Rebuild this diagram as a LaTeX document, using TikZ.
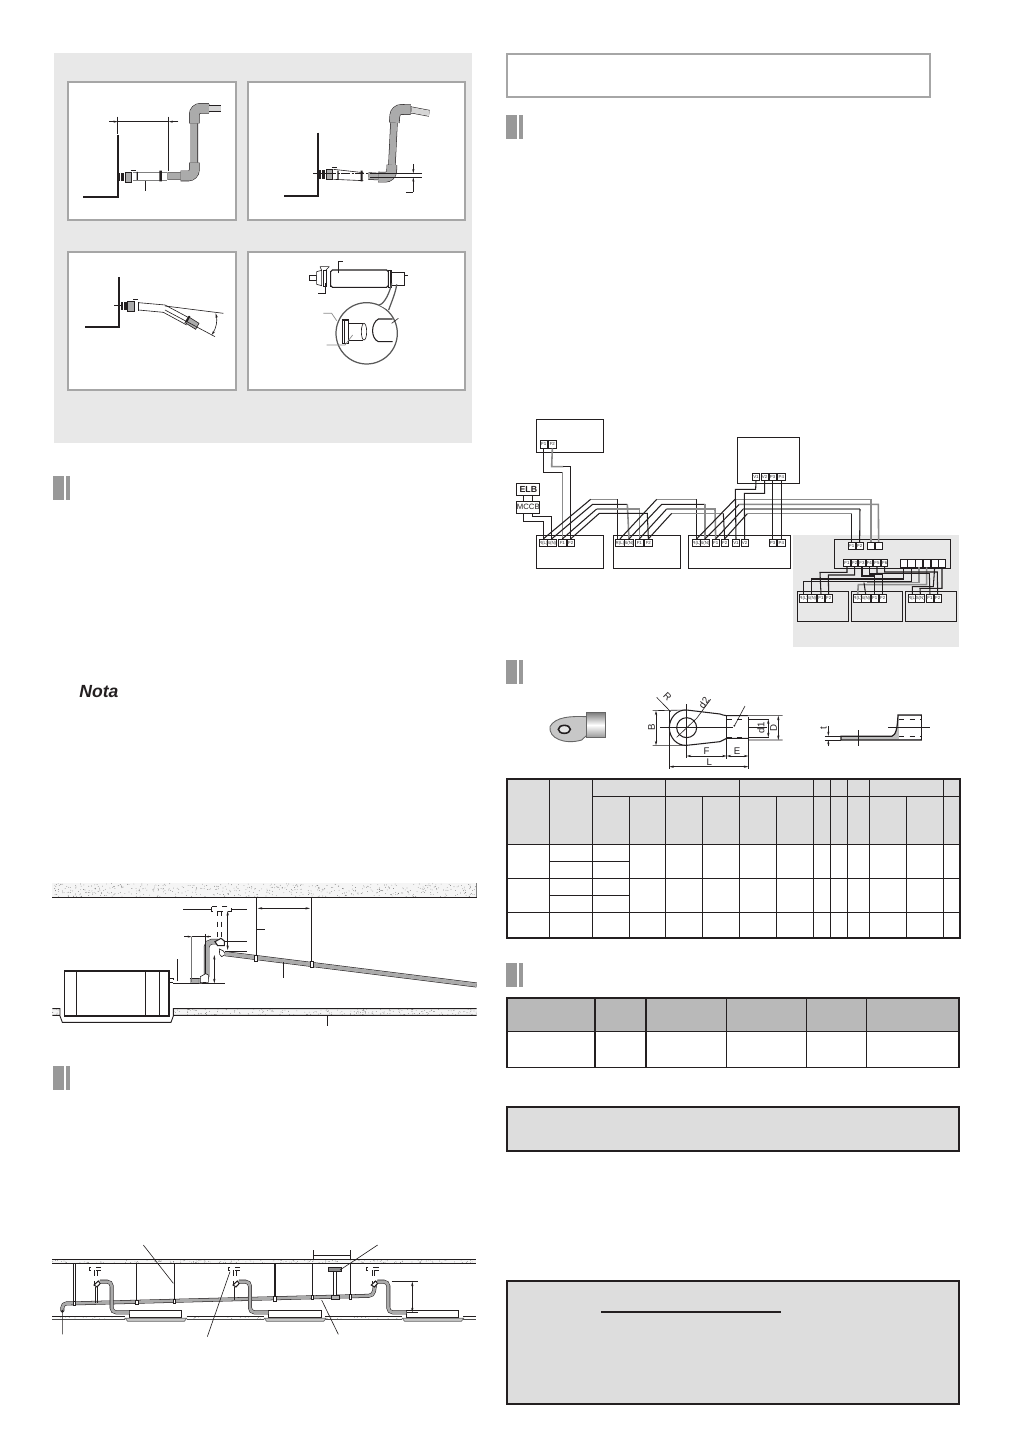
\documentclass[tikz,border=0pt]{standalone}
\usepackage{fontspec}
\setmainfont{Liberation Sans}
\usetikzlibrary{arrows.meta}
\definecolor{panelg}{HTML}{E8E8E8}
\definecolor{bordg}{HTML}{A6A6A6}
\definecolor{headg}{HTML}{DDDDDD}
\definecolor{headd}{HTML}{B9B9B9}
\definecolor{barg}{HTML}{999999}
\definecolor{pipeg}{HTML}{ABABAB}
\definecolor{inkc}{HTML}{231F20}
\tikzset{
 zoomed/.style 2 args={shift={(#1,#2)},x=0.0066667cm,y=-0.0066667cm},
 thin line/.style={draw=inkc,line width=.35pt},
 med line/.style={draw=inkc,line width=.6pt},
 heavy line/.style={draw=inkc,line width=1.1pt},
 pipe/.style={draw=inkc,line width=.3pt,double=pipeg,double distance=3.6pt},
 elbow/.style={draw=inkc,line width=.3pt,double=pipeg,double distance=5.4pt},
 tube/.style={draw=inkc,line width=.3pt,double=white,double distance=3.4pt},
 dimline/.style={draw=inkc,line width=.3pt,{Stealth[length=2.6pt,width=1.3pt]}-{Stealth[length=2.6pt,width=1.3pt]}},
 bw/.style={draw=inkc,line width=.6pt},
 gw/.style={draw=black!45,line width=.9pt},
 term/.style={draw=inkc,fill=white,line width=.5pt,minimum width=4.2pt,minimum height=4.2pt,inner sep=0pt,text=black!80,font=\fontsize{2.5}{3}\selectfont},
 ubox/.style={draw=inkc,fill=none,line width=.55pt},
 clamp/.style={draw=inkc,fill=white,line width=.35pt},
 lbl/.style={inner sep=0pt,text=inkc,font=\fontsize{5.5}{6}\selectfont},
 gridline/.style={draw=inkc,line width=.6pt},
}
\newcommand\speck[5]{\foreach \i in {1,...,#5}{\pgfmathsetmacro\sa{#1+rnd*(#3-#1)}\pgfmathsetmacro\sb{#2+rnd*(#4-#2)}\fill[black!65] (\sa,\sb) circle[radius=1];}}
\newcommand\sectbar[2]{\fill[barg] (#1,#2) rectangle ++(11,24);\fill[barg] (#1+13,#2) rectangle ++(4,24);}
\newcommand\fitdraw[2]{%
 \begin{scope}[shift={(#1,#2)}]
 \fill[inkc] (0,-13) rectangle (18,13);
 \fill[white] (6,-13) rectangle (8,13);
 \draw[thin line,fill=pipeg] (20,-15) rectangle (40,15);
 \draw[thin line] (38,-20) -- (52,-20);
 \end{scope}}
\begin{document}
\begin{tikzpicture}[x=0.02cm,y=-0.02cm]
\useasboundingbox (0,0) rectangle (1013,1439);
\fill[white] (0,0) rectangle (1013,1439);
\pgfmathsetseed{42}
% ===== top-left grey panel =====
\fill[panelg] (54,53) rectangle (472,443);
\foreach \a/\b/\c/\d in {68/82/236/220,248/82/465/220,68/252/236/390,248/252/465/390}
  \draw[draw=bordg,fill=white,line width=1.1pt] (\a,\b) rectangle (\c,\d);
\begin{scope}[zoomed={50}{50}]
 % panel A
 \draw[heavy line] (203,255) -- (203,440) -- (100,440);
 \fitdraw{205}{381}
 \draw[draw=black!50,line width=.4pt] (248,368) -- (352,368) (248,392) -- (352,392);
 \fill[inkc] (260,366) rectangle (264,390) (328,362) rectangle (336,394);
 \draw[pipe,rounded corners=4pt] (352,378) -- (433,378) -- (433,175) -- (480,175);
 \draw[elbow,rounded corners=3.5pt] (392,378) -- (433,378) -- (433,338);
 \draw[elbow,rounded corners=3.5pt] (433,220) -- (433,175) -- (477,175);
 \draw[draw=inkc,line width=.3pt,double=pipeg!50,double distance=3.2pt] (478,175) -- (513,175);
 \draw[thin line] (203,200) -- (203,252) (356,200) -- (356,362) (285,392) -- (285,422);
 \draw[thin line] (203,215) -- (356,215);
 \draw[thin line,-{Stealth[length=2.4pt,width=1.2pt]}] (178,215) -- (203,215);
 \draw[thin line,-{Stealth[length=2.4pt,width=1.2pt]}] (385,215) -- (356,215);
 % panel B
 \draw[heavy line] (803,248) -- (803,437) -- (703,437);
 \fitdraw{808}{373}
 \draw[thin line] (850,358) -- (940,368) (850,388) -- (940,392);
 \draw[thin line,dash pattern=on 5pt off 1pt on 1pt off 1pt] (790,370) -- (960,370);
 \fill[inkc] (862,362) rectangle (866,388) (932,362) rectangle (938,394);
 \draw[pipe,rounded corners=4pt] (955,378) -- (1024,382) -- (1034,178) -- (1085,180);
 \draw[elbow,rounded corners=3.5pt] (985,381) -- (1024,382) -- (1026,345);
 \draw[elbow,rounded corners=3.5pt] (1033,218) -- (1036,178) -- (1082,179);
 \draw[draw=inkc,line width=.3pt,double=pipeg!50,double distance=3.2pt] (1085,180) -- (1138,190);
 \draw[thin line] (960,370) -- (1116,370) (960,382) -- (1116,382) (1068,427) -- (1090,427);
 \draw[thin line,-{Stealth[length=2.4pt,width=1.2pt]}] (1090,342) -- (1090,370);
 \draw[thin line,-{Stealth[length=2.4pt,width=1.2pt]}] (1090,425) -- (1090,382);
 % panel C
 \draw[heavy line] (206,682) -- (206,830) -- (105,830);
 \draw[thin line] (193,765) -- (212,765);
 \fitdraw{212}{768}
 \draw[thin line] (265,758) -- (345,765) -- (420,805) (265,780) -- (340,787) -- (410,825);
 \fill[inkc] (264,756) rectangle (268,782);
 \draw[thin line,fill=pipeg] (405,818) -- (415,800) -- (447,820) -- (437,838) -- cycle;
 \fill[inkc] (407,815) -- (417,797) -- (421,800) -- (411,818) -- cycle;
 \draw[thin line] (345,768) -- (520,790) (345,780) -- (495,860);
 \draw[thin line,{Stealth[length=2.6pt,width=1.3pt]}-{Stealth[length=2.6pt,width=1.3pt]}] (497,790) .. controls (503,812) and (498,835) .. (485,855);
\end{scope}
% panel D
\begin{scope}[zoomed={290}{255}]
 \draw[thin line] (57,62) -- (80,62) -- (80,75) -- (57,75) -- cycle;
 \draw[thin line,fill=white] (80,50) -- (95,46) -- (95,92) -- (80,88) -- cycle;
 \draw[thin line] (90,35) -- (118,35) (90,35) -- (95,46) (108,45) -- (118,35);
 \draw[thin line] (100,45) rectangle (108,95);
 \fill[inkc] (119,48) rectangle (124,95);
 \draw[med line,rounded corners=1pt] (122,45) rectangle (295,97);
 \draw[thin line] (296,45) rectangle (305,97) (300,45) -- (300,97);
 \draw[thin line] (305,52) -- (342,52) -- (342,90) -- (305,90);
 \draw[thin line] (342,62) -- (355,62) (145,55) -- (145,20) -- (158,20) (105,85) -- (105,115) -- (85,115);
 \draw[draw=black!65,line width=.7pt] (230,235) circle[radius=92];
 \fill[white] (268,150) -- (296,165) -- (305,140) -- cycle;
 \draw[draw=black!65,line width=.7pt] (268,150) .. controls (285,145) and (300,110) .. (305,85) (296,165) .. controls (305,140) and (318,110) .. (320,88);
 \draw[med line] (158,195) rectangle (175,265) (164,195) -- (164,265);
 \draw[thin line] (175,205) -- (220,205) (175,255) -- (220,255);
 \draw[thin line] (222,230) ellipse[x radius=8,y radius=25];
 \draw[med line] (308,192) -- (265,192) .. controls (242,205) and (242,250) .. (265,260) -- (308,260);
 \draw[draw=black!45,line width=.4pt] (100,175) -- (125,175) -- (140,197) (110,270) -- (165,270) -- (188,240);
 \draw[thin line] (305,205) -- (325,190);
\end{scope}
% ===== section bars =====
\sectbar{53}{476}
\sectbar{53}{1066}
\sectbar{506}{115}
\sectbar{506}{660}
\sectbar{506}{963}
\draw[draw=bordg,line width=1.1pt] (507,54) rectangle (930,97);
\node[inner sep=0pt,anchor=west,text=inkc] (nota) at (79,692) {\fontsize{10}{12}\selectfont\bfseries\itshape Nota};
% ===== wiring =====
\begin{scope}[zoomed={500}{410}]
 \fill[panelg] (880,375) rectangle (1377,710);
 \foreach \a/\b/\c/\d in {109/28/310/127, 712/82/898/220, 109/376/310/475, 340/376/541/475, 565/376/872/475, 1003/388/1351/476, 892/545/1045/634, 1054/545/1208/634, 1216/545/1370/634}
   \draw[ubox] (\a,\b) rectangle (\c,\d);
 \node[term,minimum width=13pt,minimum height=6.6pt,font=\fontsize{5}{6}\selectfont\bfseries,text=inkc] (elb) at (85,238) {ELB};
 \node[term,minimum width=13pt,minimum height=6.6pt,font=\fontsize{4.4}{6}\selectfont,text=inkc] (mccb) at (85,292) {MCCB};
 \node[term] (ta) at (131,103) {F1};
 \node[term] (tb) at (157,103) {F2};
 \node[term] (v1) at (768,200) {V1};
 \node[term] (v2) at (794,200) {V2};
 \node[term] (v3) at (818,200) {P3};
 \node[term] (v4) at (844,200) {P4};
 \foreach \n/\x/\t in {a1/130/R(L),a2/155/S(N),a3/187/F1,a4/212/F2,b1/360/R(L),b2/387/S(N),b3/418/F1,b4/445/F2,c1/590/R(L),c2/615/S(N),c3/647/F1,c4/674/F2,c5/708/V1,c6/734/V2,c7/818/P3,c8/844/P4}
   \node[term] (\n) at (\x,399) {\t};
 \node[term] (e1) at (1055,408) {F1};
 \node[term] (e2) at (1079,408) {F2};
 \node[term] (e3) at (1113,408) {};
 \node[term] (e4) at (1136,408) {};
 \foreach \n/\x/\t in {g1/1041/F1,g2/1064/F2,g3/1086/F3,g4/1108/F4,g5/1131/F5,g6/1154/F6}
   \node[term,minimum width=3.6pt,minimum height=3.9pt] (\n) at (\x,460) {\t};
 \foreach \n/\x in {h1/1211,h2/1234,h3/1257,h4/1280,h5/1304,h6/1326}
   \node[term] (\n) at (\x,460) {};
 \foreach \n/\x/\t in {p1/911/R(L),p2/935/S(N),p3/963/F1,p4/986/F2,q1/1073/R(L),q2/1097/S(N),q3/1124/F1,q4/1148/F2,r1/1237/R(L),r2/1261/S(N),r3/1290/F1,r4/1313/F2}
   \node[term] (\n) at (\x,565) {\t};
 % links
 \draw[bw] (elb.south -| 70,0) -- (mccb.north -| 70,0) (elb.south -| 97,0) -- (mccb.north -| 97,0);
 \draw[bw] (mccb.south -| 70,0) -- (70,335) -| (a1.north);
 \draw[bw] (mccb.south -| 97,0) -- (97,319) -- (155,319) -- (a2.north);
 \draw[bw] (ta.south) -- (131,187) -- (187,187);
 \draw[gw] (187,187) -- (a3.north);
 \draw[gw] (tb.south) -- (155,170) -- (190,170);
 \draw[bw] (190,170) -- (212,170) -- (a4.north);
 \draw[bw] (a1.north) -- (272,268);\draw[gw] (272,268) -- (352,268);\draw[bw] (352,268) -- (352,389);
 \draw[bw] (a2.north) -- (278,283) -- (382,283);\draw[gw] (382,283) -- (b2.north);
 \draw[bw] (a3.north) -- (290,297);\draw[gw] (290,297) -- (418,297) -- (b3.north);
 \draw[bw] (a4.north) -- (298,310) -- (442,310) -- (b4.north);
 \draw[bw] (b1.north) -- (470,268);\draw[gw] (470,268) -- (590,268);\draw[bw] (590,268) -- (c1.north);
 \draw[bw] (b2.north) -- (485,283) -- (615,283);\draw[gw] (615,283) -- (c2.north);
 \draw[bw] (b3.north) -- (500,297);\draw[gw] (500,297) -- (645,297) -- (c3.north);
 \draw[bw] (b4.north) -- (515,310);\draw[gw] (515,310) -- (670,310);\draw[bw] (670,310) -- (c4.north);
 \draw[bw] (c1.north) -- (705,268);\draw[gw] (705,268) -- (1113,268) -- (e3.north);
 \draw[bw] (c2.north) -- (718,283);\draw[gw] (718,283) -- (1135,283) -- (e4.north);
 \draw[bw] (c3.north) -- (730,297);\draw[gw] (730,297) -- (1080,297);\draw[bw] (1080,297) -- (e2.north);
 \draw[bw] (c4.north) -- (742,311);\draw[gw] (742,311) -- (1055,311);\draw[bw] (1055,311) -- (e1.north);
 \draw[bw] (v1.south) -- (767,238) -- (706,238) -- (c5.north);
 \draw[bw] (v2.south) -- (794,250) -- (733,250) -- (c6.north);
 \draw[bw] (v3.south) -- (c7.north);
 \draw[bw] (v4.south) -- (c8.north);
 \draw[bw] (g1.south) -- (1041,487) -- (960,487) -- (p3.north);
 \draw[bw] (g2.south) -- (1064,495) -- (985,495) -- (p4.north);
 \draw[bw] (h1.south) -- (1211,507) -- (935,507) -- (p2.north);
 \draw[bw] (h2.south) -- (1234,515) -- (911,515) -- (p1.north);
 \draw[gw] (h3.south) -- (1257,518) -- (1100,518);
 \draw[gw] (h4.south) -- (1280,524) -- (1075,524) -- (q1.north);
 \draw[bw] (1092,518) -- (q2.north);
 \draw[bw] (g3.south) -- (1086,498) -- (1124,498) -- (q3.north);
 \draw[bw] (g4.south) -- (1108,492) -- (1148,492) -- (q4.north);
 \draw[bw] (g5.south) -- (1131,490) -- (1288,490) -- (r3.north);
 \draw[bw] (g6.south) -- (1154,486) -- (1312,486) -- (r4.north);
 \draw[bw] (h5.south) -- (1300,530) -- (1237,530) -- (r1.north);
 \draw[bw] (h6.south) -- (1326,535) -- (1260,535) -- (r2.north);
\end{scope}
% ===== lug =====
\begin{scope}[zoomed={500}{660}]
 % 3D
 \fill[black!22] (258,170) .. controls (215,168) and (165,170) .. (150,200) .. controls (145,235) and (195,255) .. (245,240) -- (258,228) -- cycle;
 \draw[black!60,line width=.5pt] (258,170) .. controls (215,168) and (165,170) .. (150,200) .. controls (145,235) and (195,255) .. (245,240) -- (258,228);
 \fill[top color=black!50,bottom color=black!40,middle color=white] (258,158) rectangle (317,232);
 \draw[black!60,line width=.5pt] (258,158) rectangle (317,232);
 \draw[draw=inkc,fill=black!10,line width=.9pt] (193,208) ellipse[x radius=18,y radius=12];
 % plan
 \draw[med line] (560,150) .. controls (530,148) and (508,175) .. (508,203) .. controls (508,232) and (530,258) .. (560,256) -- (660,245) .. controls (668,242) and (672,238) .. (680,235) -- (745,235);
 \draw[med line] (560,150) -- (660,162) .. controls (668,164) and (672,167) .. (680,167) -- (745,167);
 \draw[med line] (560,203) circle[radius=30];
 \draw[draw=inkc,line width=.5pt] (745,178) -- (808,178);
 \draw[draw=inkc,line width=.5pt,dashed] (680,178) -- (745,178);
 \draw[draw=inkc,line width=.5pt] (745,232) -- (808,232);
 \draw[draw=inkc,line width=.5pt,dashed] (680,232) -- (745,232);
 \draw[thin line] (745,167) -- (848,167) (745,240) -- (848,240) (458,152) -- (560,150) (458,256) -- (560,256);
 \draw[thin line] (480,203) -- (700,203) (745,203) -- (800,203);
 \draw[thin line] (560,132) -- (560,295) (680,167) -- (680,298) (745,170) -- (745,328) (508,150) -- (508,328);
 \draw[thin line] (470,112) -- (512,155) (530,232) -- (590,175) -- (632,118) (703,198) -- (735,138);
 \fill[inkc] (703,197) circle[radius=3];
 \draw[dimline] (468,152) -- (468,256);
 \draw[dimline] (508,320) -- (745,320);
 \draw[dimline] (560,288) -- (680,288);
 \draw[dimline] (680,288) -- (745,288);
 \draw[dimline] (835,167) -- (835,240);
 \draw[dimline] (805,178) -- (805,232);
 \node[lbl,rotate=90] (lbB) at (455,203) {B};
 \node[lbl,rotate=-45] (lbR) at (502,110) {R};
 \node[lbl,rotate=55] (lbd2) at (612,128) {d2};
 \node[lbl,rotate=90] (lbd1) at (783,203) {d1};
 \node[lbl,rotate=90] (lbD) at (821,203) {D};
 \node[lbl] (lbF) at (620,275) {F};
 \node[lbl] (lbE) at (711,275) {E};
 \node[lbl] (lbL) at (628,308) {L};
 % side
 \draw[draw=inkc,fill=black!25,line width=.7pt] (1023,229) -- (1175,229) .. controls (1187,225) and (1192,210) .. (1194,165) -- (1264,165) -- (1264,240) -- (1023,240) -- cycle;
 \fill[white] (1197,168) rectangle (1262,237);
 \fill[black!25] (1197,168) -- (1197,190) .. controls (1195,215) and (1190,225) .. (1180,229) -- (1197,229) -- cycle;
 \draw[thin line,dashed] (1197,178) -- (1262,178) (1197,229) -- (1262,229);
 \draw[thin line] (1165,203) -- (1290,203) (1075,210) -- (1075,258) (975,228) -- (1023,228) (975,240) -- (1023,240);
 \draw[thin line,-{Stealth[length=2.4pt,width=1.2pt]}] (985,198) -- (985,228);
 \draw[thin line,-{Stealth[length=2.4pt,width=1.2pt]}] (985,258) -- (985,240);
 \node[lbl,rotate=90] (lbt) at (971,205) {t};
 % table
 \fill[headg] (20,356) rectangle (1381,553);
 \foreach \x in {148,277,496,718,940,991,1042,1108,1330}
   \draw[gridline] (\x,356) -- (\x,835);
 \foreach \x in {388,607,829,1219}
   \draw[gridline] (\x,409) -- (\x,835);
 \draw[gridline] (277,409) -- (1381,409) (20,553) -- (1381,553) (148,604) -- (388,604) (20,655) -- (1381,655) (148,706) -- (388,706) (20,757) -- (1381,757);
 \draw[draw=inkc,line width=.95pt] (20,356) rectangle (1381,835);
\end{scope}
% ===== tables/boxes lower right =====
\begin{scope}[zoomed={500}{960}]
 \fill[headd] (20,113) rectangle (1378,214);
 \foreach \x in {438,679,1099} \draw[gridline] (\x,113) -- (\x,322);
 \foreach \x in {285,920} \draw[draw=inkc,line width=.95pt] (\x,113) -- (\x,322);
 \draw[gridline] (20,214) -- (1378,214);
 \draw[draw=inkc,line width=.95pt] (20,113) rectangle (1378,322);
 \draw[draw=inkc,fill=headg,line width=1.1pt] (20,440) rectangle (1378,573);
 \draw[draw=inkc,fill=headg,line width=1.1pt] (20,964) rectangle (1378,1332);
 \draw[draw=inkc,line width=.6pt] (303,1056) -- (843,1056);
\end{scope}
% ===== section 2 drawing =====
\begin{scope}[zoomed={45}{875}]
 \fill[black!4] (22,25) rectangle (1295,66);
 \speck{22}{26}{1295}{65}{520}
 \draw[draw=inkc,line width=.5pt] (22,66) -- (1295,66);
 \draw[draw=black!50,line width=.3pt] (1295,25) -- (1295,66);
 \fill[black!4] (385,401) rectangle (1295,421);
 \speck{385}{402}{1295}{420}{200}
 \fill[black!4] (22,401) rectangle (45,421);
 \speck{22}{402}{45}{420}{6}
 \draw[draw=inkc,line width=.5pt] (22,401) -- (45,401) -- (45,423) -- (52,442) -- (378,442) -- (385,423) -- (385,401) -- (1295,401) (385,421) -- (1295,421) (22,421) -- (45,421);
 \draw[draw=inkc,line width=.9pt,fill=white] (58,288) rectangle (372,423);
 \draw[med line] (94,288) -- (94,423) (302,288) -- (302,423) (344,288) -- (344,423);
 \draw[med line,fill=white] (372,311) rectangle (385,322);
 \draw[tube,double distance=1.6pt] (385,320) -- (435,320);
 \draw[pipe,double distance=2.4pt] (435,318) -- (470,318);
 \draw[pipe,double distance=2.6pt,rounded corners=3pt] (462,318) -- (485,318) -- (485,200) -- (520,200);
 \draw[draw=inkc,line width=.35pt,fill=white] (466,305) -- (482,296) -- (490,300) -- (490,322) -- (466,323) -- cycle;
 % T dashed
 \draw[thin line,dashed] (500,95) rectangle (558,108);
 \draw[thin line,dashed] (518,108) -- (518,190) (530,108) -- (530,190);
 \draw[med line,fill=white] (510,200) -- (528,190) -- (538,198) -- (538,212) -- (518,212) -- cycle;
 \draw[thin line,fill=white] (523,222) -- (535,228) -- (542,238) -- (530,245) -- (524,238) -- cycle;
 \draw[pipe,double distance=2.2pt] (540,236) -- (1295,330);
 \draw[heavy line,line width=.9pt] (634,66) -- (634,243) (800,66) -- (800,262);
 \draw[clamp] (628,241) rectangle (637,260);
 \draw[clamp] (796,260) rectangle (805,277);
 \draw[dimline] (638,100) -- (795,100);
 \draw[thin line] (634,162) -- (660,162) (716,262) -- (716,310) (398,252) -- (398,318) (480,178) -- (480,296) (470,325) -- (540,325) (415,102) -- (498,102) (560,102) -- (607,102) (540,198) -- (607,198) (540,228) -- (607,228) (847,421) -- (847,452);
 \draw[draw=black!55,line width=.4pt] (440,185) -- (440,320);
 \draw[thin line] (440,185) -- (480,185);
 \draw[thin line,-{Stealth[length=2.2pt,width=1.1pt]}] (418,185) -- (440,185);
 \draw[thin line,-{Stealth[length=2.2pt,width=1.1pt]}] (498,185) -- (480,185);
 \draw[dimline] (548,108) -- (548,225);
 \draw[dimline] (508,240) -- (508,325);
\end{scope}
% ===== section 3 drawing =====
\begin{scope}[zoomed={45}{1235}]
 \fill[black!4] (22,72) rectangle (1292,86);
 \speck{22}{73}{1292}{85}{200}
 \draw[draw=inkc,line width=.45pt] (22,72) -- (1292,72) (22,86) -- (1292,86);
 \draw[draw=inkc,line width=.45pt] (22,245) -- (241,245) (425,245) -- (658,245) (840,245) -- (1072,245) (1255,245) -- (1292,245);
 \draw[draw=black!70,line width=.4pt] (22,253) -- (241,253) (425,253) -- (658,253) (840,253) -- (1072,253) (1255,253) -- (1292,253);
 \speck{22}{246}{241}{252}{12}
 \speck{425}{246}{658}{252}{12}
 \speck{840}{246}{1072}{252}{12}
 \foreach \x/\w in {253/157,670/158,1084/157}{
   \draw[draw=inkc,fill=white,line width=.5pt] (\x,226) rectangle ++(\w,22);
   \draw[draw=black!60,fill=black!20,line width=.4pt] (\x-12,250) -- (\x+\w+15,250) -- (\x+\w+8,259) -- (\x-5,259) -- cycle;
 }
 % main pipe
 \draw[pipe,double distance=1.6pt,rounded corners=2.5pt] (52,228) -- (52,205) -- (90,205) -- (950,183) -- (985,182) -- (990,150);
 \fill[inkc] (52,229) circle[radius=5];
 % hangers
 \draw[thin line] (86,86) -- (86,204) (92,86) -- (92,204);
 \foreach \x/\y in {275/198,388/195,690/185,803/183,916/180}
   \draw[draw=inkc,line width=.8pt] (\x,86) -- (\x,\y);
 \foreach \x/\y in {88/205,276/202,388/199,689/191,802/187,916/186}
   \draw[clamp] (\x-4,\y-7) rectangle (\x+4,\y+7);
 % branch units
 \foreach \x in {152,569,984}{
   \draw[thin line,dashed] (\x-20,96) rectangle (\x+20,106);
   \draw[thin line,dashed] (\x-3,106) -- (\x-3,150) (\x+4,106) -- (\x+4,150);
   \draw[med line,fill=white] (\x-5,150) -- (\x+8,138) -- (\x+14,145) -- (\x+4,156) -- cycle;
 }
 \draw[pipe,double distance=1.6pt,rounded corners=2.5pt] (165,140) -- (200,140) -- (200,232) -- (253,232);
 \draw[pipe,double distance=1.6pt,rounded corners=2.5pt] (582,140) -- (615,140) -- (615,232) -- (670,232);
 \draw[pipe,double distance=1.6pt,rounded corners=2.5pt] (997,140) -- (1030,140) -- (1030,232) -- (1084,232);
 \draw[draw=inkc,line width=.7pt] (152,156) -- (152,203) (568,156) -- (568,195);
 \draw[draw=inkc,line width=.3pt] (158,156) -- (158,203);
 \draw[clamp,fill=black!30] (858,180) rectangle (882,192);
 \draw[draw=inkc,fill=black!45,line width=.35pt] (850,98) rectangle (890,108);
 \draw[thin line,fill=white] (866,108) rectangle (875,180);
 % leaders & dims
 \draw[thin line] (805,45) -- (805,72) (917,45) -- (917,72) (805,60) -- (917,60);
 \draw[thin line] (295,30) -- (385,145) (998,30) -- (885,105) (555,110) -- (487,305) (830,195) -- (880,298) (52,234) -- (52,298);
 \draw[thin line] (1040,140) -- (1118,140) (1085,232) -- (1120,232);
 \draw[dimline] (1102,140) -- (1102,232);
\end{scope}
\end{tikzpicture}
\end{document}
